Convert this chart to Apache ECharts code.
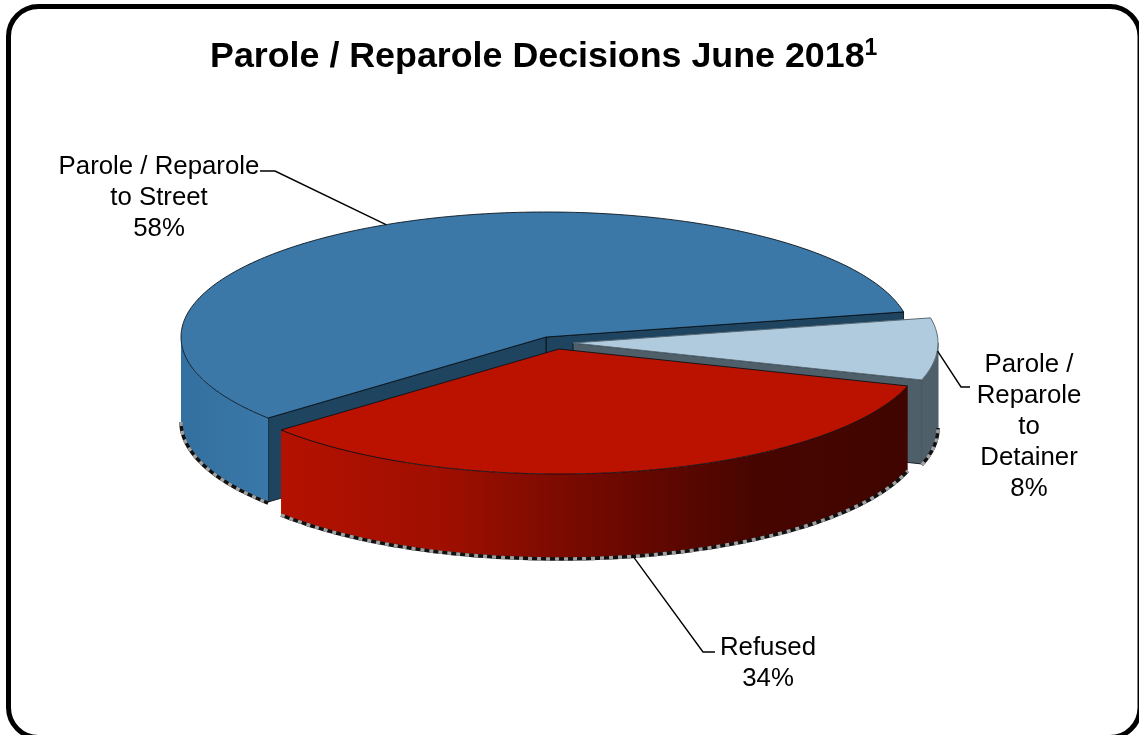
<!DOCTYPE html>
<html>
<head>
<meta charset="utf-8">
<style>html,body{margin:0;padding:0;background:#fff}#c{width:1139px;height:735px}</style>
<script src="https://cdn.jsdelivr.net/npm/echarts@6/dist/echarts.min.js"></script>
</head>
<body>
<div id="c"></div>
<script>
var categories = ['Parole / Reparole to Street', 'Refused', 'Parole / Reparole to Detainer'];
var values = [58, 34, 8];
var labelLines = [
  'Parole / Reparole\nto Street\n58%',
  'Refused\n34%',
  'Parole /\nReparole\nto\nDetainer\n8%'
];
var chartTitle = 'Parole / Reparole Decisions June 2018';
var titleNote = '1';

var START = 11.6, RX = 365, RY = 125, DEPTH = 84;
var looks = [
  {cx:546, cy:337, top:'#3b78a8', cut:'#1e4460', wall:['#33709f','#3a78a9'], z:1,
   labelX:159, labelY:151, elbow:[275,171], end:[260,171], anchorDepth:0},
  {cx:559, cy:349, top:'#bb1200', cut:'#400500', wall:['#b41100','#a00f00','#720900','#480500','#400500'], z:3,
   labelX:768, labelY:632, elbow:[703,652], end:[715,652], anchorDepth:1},
  {cx:573, cy:343, top:'#b0cbde', cut:'#4e5f6a', wall:['#4e5f6a','#4e5f6a'], z:2,
   labelX:1029, labelY:349, elbow:[961,387], end:[970,387], anchorDepth:0}
];
var total = values.reduce(function(a,b){return a+b;},0);

function pt(l,a,d){var r=a*Math.PI/180;return [l.cx+RX*Math.cos(r), l.cy-RY*Math.sin(r)+(d||0)];}
function arc(l,a0,a1,d){var o=[],n=Math.max(2,Math.ceil(Math.abs(a1-a0)));for(var i=0;i<=n;i++){o.push(pt(l,a0+(a1-a0)*i/n,d));}return o;}
function grad(cs){return new echarts.graphic.LinearGradient(0,0,1,0,cs.map(function(c,i){return {offset:i/(cs.length-1),color:c};}));}

var starts=[],acc=START;
values.forEach(function(v){starts.push(acc);acc+=v/total*360;});

function renderItem(params, api){
  var i=params.dataIndex, v=api.value(0), l=looks[i];
  var a0=starts[i], a1=a0+v/total*360, mid=(a0+a1)/2, kids=[], apex=[l.cx,l.cy];
  var edge='rgba(6,14,20,0.85)';
  function cutFace(a){
    var p=pt(l,a);
    kids.push({type:'polygon',z2:l.z*10,shape:{points:[apex,p,[p[0],p[1]+DEPTH],[apex[0],apex[1]+DEPTH]]},
      style:{fill:l.cut,stroke:edge,lineWidth:1}});
  }
  if(i===0){cutFace(a0);cutFace(a1);}
  if(i===2){cutFace(a0);}
  // front wall: the part of the rim between 180 and 360 degrees
  var w0=Math.max(a0,180), w1=Math.min(a1,360);
  if(w1>w0){
    var t=arc(l,w0,w1,0), b=arc(l,w1,w0,DEPTH);
    kids.push({type:'polygon',z2:l.z*10+1,shape:{points:t.concat(b)},style:{fill:grad(l.wall),stroke:i===2?'#4e5f6a':'none',lineWidth:1}});
    var bottom=arc(l,w0,w1,DEPTH+1);
    kids.push({type:'polyline',z2:l.z*10+2,shape:{points:bottom},style:{stroke:'#111',fill:'none',lineWidth:3.5}});
    kids.push({type:'polyline',z2:l.z*10+3,shape:{points:bottom},style:{stroke:'#a0a0a0',fill:'none',lineWidth:3.5,lineDash:[4,5]}});
  }
  // top face
  var pts=[apex].concat(arc(l,a0,a1,0));
  kids.push({type:'polygon',z2:l.z*10+4,shape:{points:pts},style:{fill:l.top,stroke:i===2?'#5a6a75':edge,lineWidth:1}});
  // leader and label
  var start=pt(l,mid,l.anchorDepth?DEPTH:0);
  if(i===2){start=[start[0],start[1]+2];}
  kids.push({type:'polyline',z2:100,shape:{points:[start,l.elbow,l.end]},style:{stroke:'#000',fill:'none',lineWidth:1.4}});
  kids.push({type:'text',z2:101,style:{text:labelLines[i],x:l.labelX,y:l.labelY,align:'center',verticalAlign:'top',
    font:'25.8px "Liberation Sans"',lineHeight:31,fill:'#000'}});
  return {type:'group',children:kids};
}

var chart=echarts.init(document.getElementById('c'),null,{renderer:'canvas'});
chart.setOption({
  animation:false,
  backgroundColor:'#fff',
  title:{
    left:210, top:37, padding:0,
    text:'{t|'+chartTitle+'}{s|'+titleNote+'}',
    textStyle:{rich:{
      t:{fontFamily:'Liberation Sans',fontWeight:'bold',fontSize:35.8,color:'#000',lineHeight:40},
      s:{fontFamily:'Liberation Sans',fontWeight:'bold',fontSize:23,color:'#000',lineHeight:40,verticalAlign:'top',padding:[0,0,12,0]}
    }}
  },
  graphic:[{type:'rect',z:-1,shape:{x:8.5,y:6.5,width:1131.5,height:731,r:30},style:{fill:'#fff',stroke:'#000',lineWidth:5}}],
  series:[{
    type:'custom',coordinateSystem:'none',silent:true,clip:false,
    renderItem:renderItem,
    data:values.map(function(v,i){return {name:categories[i],value:[v]};})
  }]
});
</script>
</body>
</html>
